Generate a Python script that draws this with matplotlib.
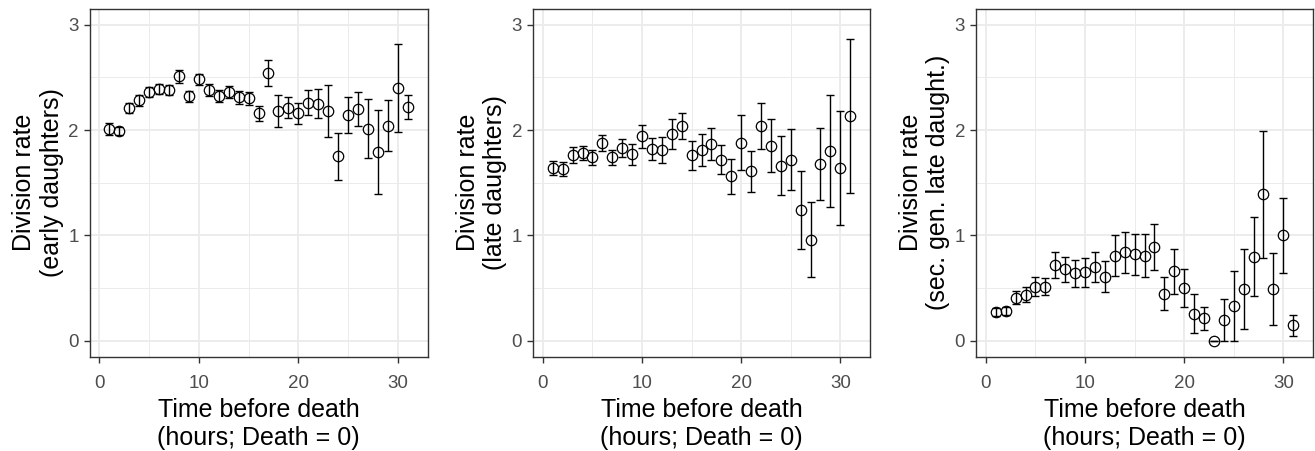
import matplotlib
matplotlib.use("Agg")
import matplotlib.pyplot as plt
import numpy as np

plt.rcParams["font.family"] = ["Liberation Sans", "DejaVu Sans"]

# ***** Data *****
hours = list(range(1, 32))

early_rate = [2.01, 1.99, 2.21, 2.28, 2.36, 2.39, 2.38, 2.51, 2.32, 2.48,
              2.38, 2.32, 2.36, 2.31, 2.30, 2.16, 2.54, 2.18, 2.21, 2.16,
              2.26, 2.25, 2.18, 1.75, 2.14, 2.20, 2.01, 1.79, 2.04, 2.40, 2.22]
early_err = [0.06, 0.04, 0.05, 0.05, 0.05, 0.05, 0.05, 0.06, 0.05, 0.055,
             0.055, 0.055, 0.055, 0.06, 0.065, 0.07, 0.125, 0.15, 0.10, 0.10,
             0.12, 0.14, 0.25, 0.225, 0.17, 0.16, 0.28, 0.40, 0.24, 0.415, 0.115]

late_rate = [1.64, 1.63, 1.76, 1.78, 1.74, 1.88, 1.74, 1.83, 1.77, 1.94,
             1.82, 1.81, 1.96, 2.04, 1.76, 1.81, 1.87, 1.72, 1.56, 1.88,
             1.61, 2.04, 1.85, 1.66, 1.72, 1.24, 0.96, 1.68, 1.80, 1.64, 2.13]
late_err = [0.07, 0.07, 0.075, 0.065, 0.075, 0.075, 0.07, 0.085, 0.10, 0.11,
            0.10, 0.12, 0.14, 0.125, 0.14, 0.15, 0.15, 0.14, 0.165, 0.26,
            0.195, 0.22, 0.25, 0.28, 0.29, 0.37, 0.355, 0.34, 0.53, 0.54, 0.73]

second_rate = [0.275, 0.284, 0.41, 0.44, 0.515, 0.515, 0.72, 0.68, 0.64, 0.65,
               0.70, 0.61, 0.81, 0.84, 0.82, 0.81, 0.89, 0.45, 0.66, 0.50,
               0.26, 0.215, 0.0, 0.196, 0.33, 0.49, 0.80, 1.39, 0.49, 1.00, 0.15]
second_err = [0.04, 0.04, 0.06, 0.07, 0.09, 0.08, 0.12, 0.12, 0.125, 0.14,
              0.14, 0.145, 0.19, 0.195, 0.19, 0.20, 0.22, 0.16, 0.21, 0.18,
              0.185, 0.11, 0.0, 0.2, 0.33, 0.38, 0.375, 0.60, 0.34, 0.36, 0.10]

y_labels = ["Division rate\n(early daughters)",
            "Division rate\n(late daughters)",
            "Division rate\n(sec. gen. late daught.)"]
x_label = "Time before death\n(hours; Death = 0)"

panels = [(early_rate, early_err), (late_rate, late_err), (second_rate, second_err)]

# axes positions in pixels: left, right
W, H = 1315, 451
lefts = [89.5, 533, 976]
rights = [427.5, 870, 1313]
top, bottom = 8.7, 356.8

fig = plt.figure(figsize=(W / 100, H / 100), dpi=100)
for i, (rate, err) in enumerate(panels):
    ax = fig.add_axes([lefts[i] / W, 1 - bottom / H,
                       (rights[i] - lefts[i]) / W, (bottom - top) / H])
    ax.set_xlim(-0.995, 32.995)
    ax.set_ylim(-0.15, 3.15)
    ax.set_xticks([0, 10, 20, 30])
    ax.set_xticks([5, 15, 25], minor=True)
    ax.set_yticks([0, 1, 2, 3])
    ax.set_yticks([0.5, 1.5, 2.5], minor=True)
    ax.grid(which="major", color="#EBEBEB", linewidth=1.3)
    ax.grid(which="minor", color="#EBEBEB", linewidth=0.7)
    ax.set_axisbelow(True)
    ax.tick_params(which="minor", length=0)
    ax.tick_params(which="major", length=4.3, width=1.0, color="#333333",
                   labelsize=13.5, labelcolor="#4D4D4D")
    ax.tick_params(axis="x", pad=8.5)
    ax.tick_params(axis="y", pad=3.6)
    for sp in ax.spines.values():
        sp.set_color("#333333")
        sp.set_linewidth(1.0)

    ax.errorbar(hours, rate, yerr=err, fmt="none", ecolor="black",
                elinewidth=1.0, capsize=3.2, capthick=1.0, zorder=2)
    ax.plot(hours, rate, "o", markersize=7.5, markerfacecolor="none",
            markeredgecolor="black", markeredgewidth=0.9, zorder=3)

    ax.set_xlabel(x_label, fontsize=18, labelpad=4.5, linespacing=1.2)
    ax.set_ylabel(y_labels[i], fontsize=18, labelpad=3, linespacing=1.2)

fig.savefig("out.png", dpi=100)
